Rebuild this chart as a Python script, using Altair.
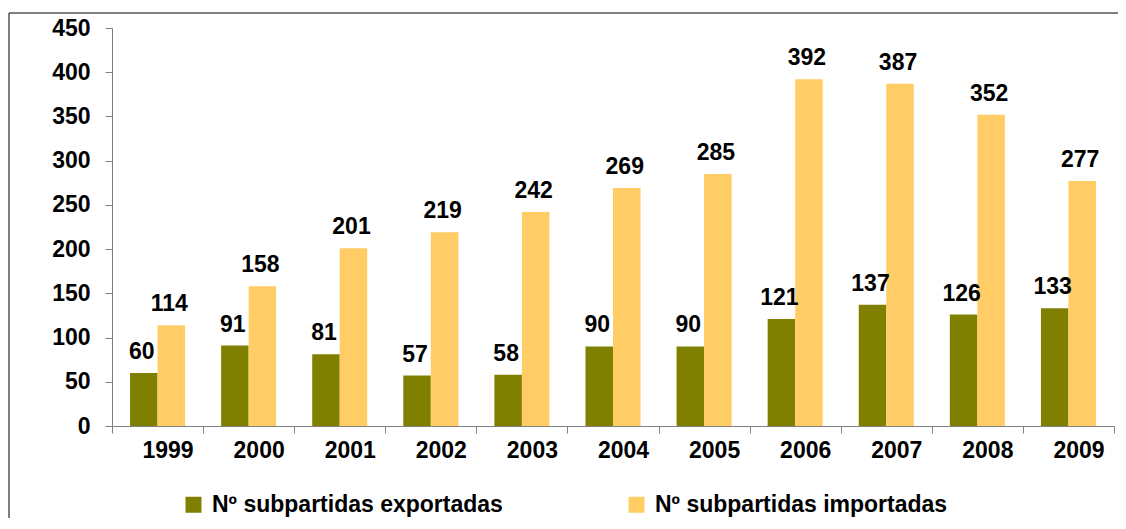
import altair as alt
import pandas as pd

years = ["1999", "2000", "2001", "2002", "2003", "2004", "2005", "2006", "2007", "2008", "2009"]
exportadas = [60, 91, 81, 57, 58, 90, 90, 121, 137, 126, 133]
importadas = [114, 158, 201, 219, 242, 269, 285, 392, 387, 352, 277]
series_names = ["Nº subpartidas exportadas", "Nº subpartidas importadas"]
series_colors = ["#808000", "#FFCC66"]
y_ticks = [0, 50, 100, 150, 200, 250, 300, 350, 400, 450]

rows = []
for i, yr in enumerate(years):
    rows.append({"year": yr, "serie": series_names[0], "value": exportadas[i]})
    rows.append({"year": yr, "serie": series_names[1], "value": importadas[i]})
df = pd.DataFrame(rows)

FONT = "Liberation Sans"
FS = 23

x_enc = alt.X(
    "year:N",
    sort=years,
    scale=alt.Scale(paddingInner=0, paddingOuter=0),
    axis=alt.Axis(
        title=None,
        labelAngle=0,
        labelFont=FONT,
        labelFontSize=FS,
        labelFontWeight="bold",
        labelColor="black",
        labelOffset=10,
        labelPadding=6,
        tickBand="extent",
        tickSize=7,
        tickColor="#808080",
        domainColor="#808080",
        grid=False,
    ),
)
xoff_enc = alt.XOffset(
    "serie:N",
    sort=series_names,
    scale=alt.Scale(paddingInner=0, paddingOuter=0.655),
)
y_enc = alt.Y(
    "value:Q",
    scale=alt.Scale(domain=[0, 450], nice=False),
    axis=alt.Axis(
        title=None,
        values=y_ticks,
        labelFont=FONT,
        labelFontSize=FS,
        labelFontWeight="bold",
        labelColor="black",
        labelPadding=15,
        tickSize=7,
        tickColor="#808080",
        domainColor="#808080",
        grid=False,
    ),
)
color_enc = alt.Color(
    "serie:N",
    sort=series_names,
    scale=alt.Scale(domain=series_names, range=series_colors),
    legend=alt.Legend(
        title=None,
        orient="none",
        legendX=70,
        legendY=465,
        direction="horizontal",
        columns=2,
        columnPadding=122,
        padding=0,
        symbolType="square",
        symbolSize=256,
        symbolStrokeWidth=0,
        labelFont=FONT,
        labelFontSize=FS,
        labelFontWeight="bold",
        labelColor="black",
        labelOffset=7,
        labelLimit=500,
    ),
)

bars = alt.Chart(df).mark_bar(stroke=None).encode(
    x=x_enc, xOffset=xoff_enc, y=y_enc, color=color_enc
)

labels = alt.Chart(df).mark_text(
    font=FONT, fontSize=FS, fontWeight="bold", color="black",
    baseline="alphabetic", dy=-14, dx=-2,
).encode(
    x=alt.X("year:N", sort=years),
    xOffset=alt.XOffset("serie:N", sort=series_names),
    y=alt.Y("value:Q"),
    text=alt.Text("value:Q"),
)

frame_src = pd.DataFrame({"a": [0]})
frame_top = alt.Chart(frame_src).mark_rule(color="black", strokeWidth=1).encode(
    x=alt.value(-103), x2=alt.value(1200), y=alt.value(-15)
)
frame_left = alt.Chart(frame_src).mark_rule(color="black", strokeWidth=1).encode(
    x=alt.value(-103), y=alt.value(-15), y2=alt.value(700)
)

chart = alt.layer(bars, labels, frame_top, frame_left).properties(
    width=1002,
    height=398,
    autosize=alt.AutoSizeParams(type="none"),
    padding={"left": 104, "top": 20, "right": 4, "bottom": 92},
    background="white",
).configure_view(stroke=None)

chart.save("out.html", embed_options={"renderer": "svg", "actions": False})
